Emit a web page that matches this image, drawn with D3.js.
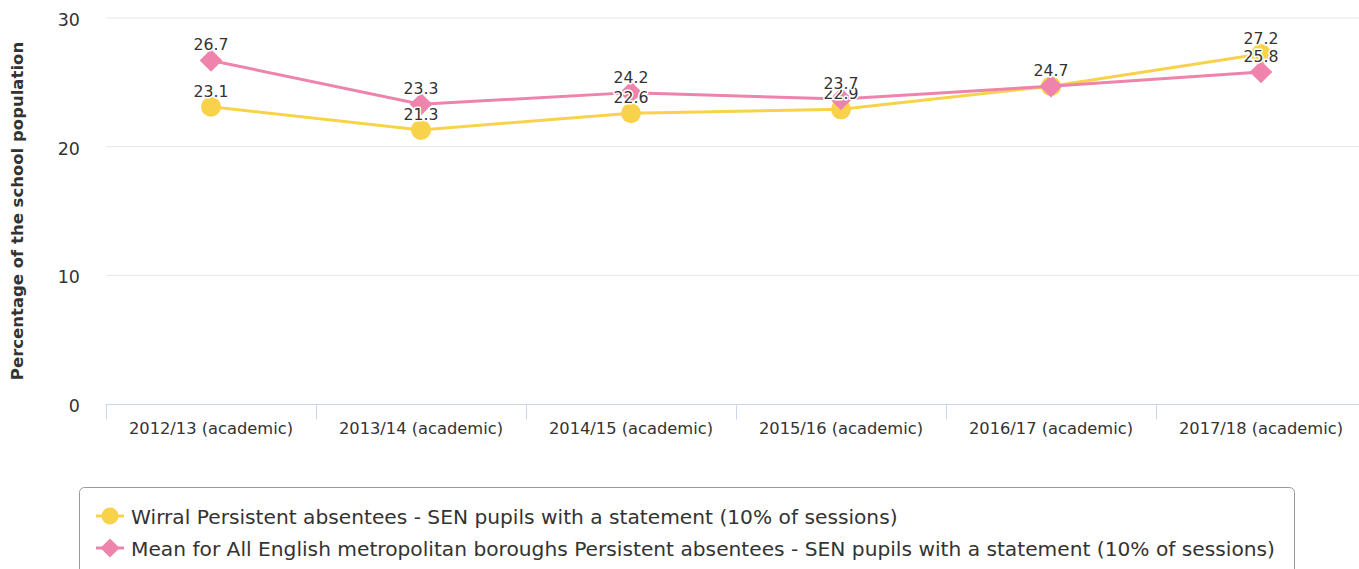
<!DOCTYPE html>
<html>
<head>
<meta charset="utf-8">
<script src="https://cdn.jsdelivr.net/npm/d3@7"></script>
<style>
  html, body { margin: 0; padding: 0; background: #fff; }
  svg { display: block; font-family: "DejaVu Sans", sans-serif; }
</style>
</head>
<body>
<svg id="chart" width="1359" height="569"></svg>
<script>
// Academic years and the two persistent-absence series (% of school population)
const categories = ["2012/13 (academic)", "2013/14 (academic)", "2014/15 (academic)",
                    "2015/16 (academic)", "2016/17 (academic)", "2017/18 (academic)"];
const wirralValues = [23.1, 21.3, 22.6, 22.9, 24.7, 27.2];
const meanValues   = [26.7, 23.3, 24.2, 23.7, 24.7, 25.8];
const yTicks = [0, 10, 20, 30];
const seriesNames = [
  "Wirral Persistent absentees - SEN pupils with a statement (10% of sessions)",
  "Mean for All English metropolitan boroughs Persistent absentees - SEN pupils with a statement (10% of sessions)"
];

const series = [
  { name: seriesNames[0], values: wirralValues, color: "#f9d24b", symbol: "circle" },
  { name: seriesNames[1], values: meanValues,   color: "#ee83ab", symbol: "diamond" }
];

const svg = d3.select("#chart");
const plot = { left: 106, right: 1366, top: 18, bottom: 404 };

const x = d3.scaleBand().domain(categories).range([plot.left, plot.right]).padding(0);
const y = d3.scaleLinear().domain([0, 30]).range([plot.bottom, plot.top]);
const cx = i => x(categories[i]) + x.bandwidth() / 2;

// horizontal grid lines
svg.append("g").selectAll("line").data(yTicks.filter(d => d > 0)).join("line")
  .attr("x1", plot.left).attr("x2", 1359)
  .attr("y1", d => y(d)).attr("y2", d => y(d))
  .attr("stroke", "#e6e6e6").attr("stroke-width", 1);

// y tick labels
svg.append("g").selectAll("text").data(yTicks).join("text")
  .attr("x", 80).attr("y", d => y(d) + 8)
  .attr("text-anchor", "end")
  .attr("font-size", 17.5).attr("fill", "#333")
  .text(d => d);

// y axis title
svg.append("text")
  .attr("transform", `translate(23, ${(plot.top + plot.bottom) / 2}) rotate(-90)`)
  .attr("text-anchor", "middle")
  .attr("font-size", 16.5).attr("font-weight", "bold").attr("fill", "#333")
  .text("Percentage of the school population");

// x axis
const xAxis = svg.append("g").attr("transform", `translate(0, ${plot.bottom + 0.5})`)
  .call(d3.axisBottom(x).tickSize(0).tickPadding(0));
xAxis.select(".domain").attr("stroke", "#ccd6eb").attr("d", `M${plot.left},0H1359`);
xAxis.selectAll(".tick text").remove();
xAxis.selectAll("line.edge").data(categories).join("line")
  .attr("class", "edge")
  .attr("x1", d => Math.round(x(d)) + 0.5).attr("x2", d => Math.round(x(d)) + 0.5)
  .attr("y1", 0).attr("y2", 15)
  .attr("stroke", "#ccd6eb");
svg.append("g").selectAll("text").data(categories).join("text")
  .attr("x", (d, i) => cx(i))
  .attr("y", plot.bottom + 30)
  .attr("text-anchor", "middle")
  .attr("font-size", 16.3).attr("fill", "#333")
  .text(d => d);

// lines and markers
const line = d3.line().x((d, i) => cx(i)).y(d => y(d));

function markerPath(symbol, scale) {
  return symbol === "diamond"
    ? d3.symbol().type(d3.symbolSquare).size(Math.pow(16 * scale, 2))()
    : d3.symbol().type(d3.symbolCircle).size(Math.PI * Math.pow(10 * scale, 2))();
}

series.forEach(s => {
  const g = svg.append("g");
  g.append("path").datum(s.values)
    .attr("d", line)
    .attr("fill", "none").attr("stroke", s.color).attr("stroke-width", 3);
  g.selectAll("path.marker").data(s.values).join("path")
    .attr("class", "marker")
    .attr("transform", (d, i) => `translate(${cx(i)},${y(d)})` + (s.symbol === "diamond" ? " rotate(45)" : ""))
    .attr("d", markerPath(s.symbol, 1))
    .attr("fill", s.color);
});

// value labels
series.forEach(s => {
  svg.append("g").selectAll("text").data(s.values).join("text")
    .attr("x", (d, i) => cx(i))
    .attr("y", d => y(d) - 10)
    .attr("text-anchor", "middle")
    .attr("font-size", 15.7).attr("fill", "#333")
    .attr("stroke", "#fff").attr("stroke-width", 3).attr("stroke-linejoin", "round")
    .attr("paint-order", "stroke")
    .text(d => d.toFixed(1));
});

// legend
const legend = svg.append("g");
legend.append("rect")
  .attr("x", 79.5).attr("y", 487.5).attr("width", 1215).attr("height", 100)
  .attr("rx", 5).attr("fill", "#fff").attr("stroke", "#999");
series.forEach((s, i) => {
  const ly = 516 + i * 32;
  const li = legend.append("g").attr("transform", `translate(0, ${ly})`);
  li.append("line").attr("x1", 96).attr("x2", 124).attr("y1", 0).attr("y2", 0)
    .attr("stroke", s.color).attr("stroke-width", 3);
  li.append("path")
    .attr("transform", "translate(110,0)" + (s.symbol === "diamond" ? " rotate(45)" : ""))
    .attr("d", markerPath(s.symbol, 0.85))
    .attr("fill", s.color);
  li.append("text").attr("x", 131).attr("y", 7.5)
    .attr("font-size", 20.2).attr("fill", "#333")
    .text(s.name);
});
</script>
</body>
</html>
